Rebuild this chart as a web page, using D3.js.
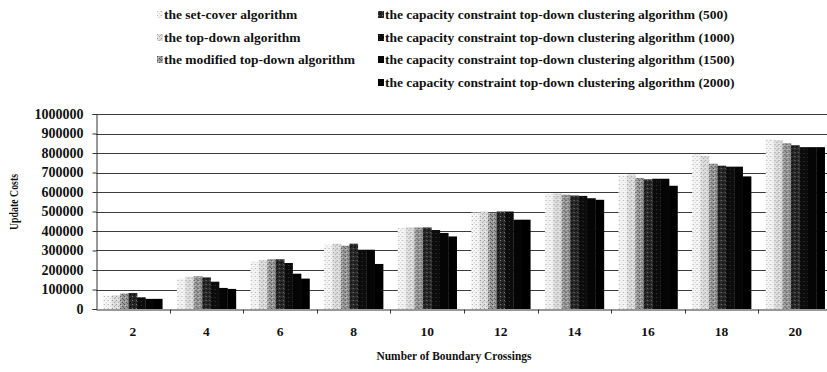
<!DOCTYPE html>
<html>
<head>
<meta charset="utf-8">
<script src="https://cdn.jsdelivr.net/npm/d3@7"></script>
<style>
  html, body { margin: 0; padding: 0; background: #fff; }
  svg { display: block; font-family: "Liberation Serif", "Times New Roman", serif; }
</style>
</head>
<body>
<svg id="chart" width="827" height="372"></svg>
<script>
// Number of boundary crossings (x categories)
const categories = ["2", "4", "6", "8", "10", "12", "14", "16", "18", "20"];

// Update costs per algorithm
const setCover        = [68000, 155000, 245000, 330000, 415000, 495000, 590000, 685000, 795000, 870000];
const topDown         = [72000, 165000, 250000, 335000, 420000, 500000, 592000, 690000, 785000, 865000];
const modifiedTopDown = [80000, 168000, 255000, 325000, 418000, 493000, 586000, 672000, 745000, 850000];
const cc500           = [82000, 162000, 255000, 335000, 418000, 500000, 582000, 665000, 735000, 840000];
const cc1000          = [60000, 140000, 236000, 304000, 405000, 500000, 580000, 668000, 730000, 830000];
const cc1500          = [52000, 108000, 181000, 304000, 390000, 458000, 568000, 668000, 730000, 830000];
const cc2000          = [52000, 103000, 156000, 231000, 372000, 458000, 560000, 632000, 680000, 830000];

const seriesNames = [
  "the set-cover algorithm",
  "the top-down algorithm",
  "the modified top-down algorithm",
  "the capacity constraint top-down clustering algorithm (500)",
  "the capacity constraint top-down clustering algorithm (1000)",
  "the capacity constraint top-down clustering algorithm (1500)",
  "the capacity constraint top-down clustering algorithm (2000)"
];
const seriesValues = [setCover, topDown, modifiedTopDown, cc500, cc1000, cc1500, cc2000];

const yTicks = [0, 100000, 200000, 300000, 400000, 500000, 600000, 700000, 800000, 900000, 1000000];

const xTitle = "Number of Boundary Crossings";
const yTitle = "Update Costs";

const svg = d3.select("#chart");
const W = 827;

// Halftone-like fills for the grayscale bars
const defs = svg.append("defs");
const fills = [
  { id: "p0", base: "#f4f4f4", dots: [[0,0,"#b8b8b8"],[2,2,"#cfcfcf"],[3,0,"#dddddd"]] },
  { id: "p1", base: "#dcdcdc", dots: [[0,0,"#9a9a9a"],[2,2,"#a8a8a8"],[1,3,"#eeeeee"],[3,1,"#bbbbbb"]] },
  { id: "p2", base: "#9a9a9a", dots: [[0,0,"#4a4a4a"],[2,2,"#555555"],[1,1,"#cfcfcf"],[3,3,"#6a6a6a"]] },
  { id: "p3", base: "#2a2a2a", dots: [[0,0,"#777777"],[2,2,"#000000"],[1,3,"#111111"]] },
  { id: "p4", base: "#0c0c0c", dots: [[1,1,"#3a3a3a"]] },
  { id: "p5", base: "#050505", dots: [] },
  { id: "p6", base: "#000000", dots: [] }
];
fills.forEach(f => {
  const p = defs.append("pattern")
    .attr("id", f.id)
    .attr("patternUnits", "userSpaceOnUse")
    .attr("width", 4).attr("height", 4);
  p.append("rect").attr("width", 4).attr("height", 4).attr("fill", f.base);
  f.dots.forEach(d => p.append("rect").attr("x", d[0]).attr("y", d[1]).attr("width", 1).attr("height", 1).attr("fill", d[2]));
});

// Scales
const x = d3.scaleBand().domain(categories).range([96, 832]).paddingInner(0).paddingOuter(0);
const xs = d3.scaleBand().domain(d3.range(seriesNames.length)).range([0, x.bandwidth()])
  .paddingInner(0).paddingOuter(0.87);
const y = d3.scaleLinear().domain([0, 1000000]).range([309, 114]);

// Gridlines
svg.append("g").selectAll("line")
  .data(yTicks.filter(t => t > 0))
  .join("line")
  .attr("x1", 96).attr("x2", W)
  .attr("y1", d => Math.round(y(d)) + 0.5).attr("y2", d => Math.round(y(d)) + 0.5)
  .attr("stroke", "#3d3d3d").attr("stroke-width", 1);

// Bars
const groups = svg.append("g").selectAll("g")
  .data(categories)
  .join("g")
  .attr("transform", c => `translate(${x(c)},0)`);

groups.selectAll("rect")
  .data((c, i) => seriesValues.map((vals, s) => ({ s, v: vals[i] })))
  .join("rect")
  .attr("x", d => xs(d.s))
  .attr("width", xs.bandwidth() + 0.3)
  .attr("y", d => y(d.v))
  .attr("height", d => y(0) - y(d.v))
  .attr("fill", d => `url(#${fills[d.s].id})`);

// Y axis
const yAxis = d3.axisLeft(y).tickValues(yTicks).tickFormat(d3.format("d")).tickSize(4).tickPadding(9);
const gy = svg.append("g").attr("transform", "translate(96.5,0)").call(yAxis);
gy.select(".domain").attr("stroke", "#333");
gy.selectAll(".tick line").attr("stroke", "#333");
gy.selectAll("text")
  .attr("font-family", "Liberation Serif")
  .attr("font-weight", "bold")
  .attr("font-size", 14)
  .attr("fill", "#111");

// X axis
const xAxis = d3.axisBottom(x).tickSize(0).tickPadding(17);
const gx = svg.append("g").attr("transform", "translate(0,309.5)").call(xAxis);
gx.select(".domain").attr("stroke", "#333");
gx.selectAll("text")
  .attr("font-family", "Liberation Serif")
  .attr("font-weight", "bold")
  .attr("font-size", 13.5)
  .attr("fill", "#111");
// category separators below the axis
svg.append("g").selectAll("line")
  .data(categories.slice(1))
  .join("line")
  .attr("x1", c => Math.round(x(c)) + 0.5).attr("x2", c => Math.round(x(c)) + 0.5)
  .attr("y1", 309.5).attr("y2", 313.5)
  .attr("stroke", "#333");

// Axis titles
svg.append("text")
  .attr("x", 454).attr("y", 360)
  .attr("text-anchor", "middle")
  .attr("font-weight", "bold").attr("font-size", 12.5)
  .attr("textLength", 155).attr("lengthAdjust", "spacingAndGlyphs")
  .attr("fill", "#111")
  .text(xTitle);

svg.append("text")
  .attr("transform", "translate(18,202) rotate(-90)")
  .attr("text-anchor", "middle")
  .attr("font-weight", "bold").attr("font-size", 13)
  .attr("textLength", 56).attr("lengthAdjust", "spacingAndGlyphs")
  .attr("fill", "#111")
  .text(yTitle);

// Legend: first three series on the left, remaining four on the right
const legendPos = [
  [157, 15], [157, 38], [157, 60],
  [378, 15], [378, 38], [378, 60], [378, 83]
];
const legend = svg.append("g").selectAll("g")
  .data(seriesNames)
  .join("g")
  .attr("transform", (d, i) => `translate(${legendPos[i][0]},${legendPos[i][1]})`);
legend.append("rect")
  .attr("x", 0).attr("y", -4).attr("width", 6).attr("height", 7)
  .attr("fill", (d, i) => `url(#${fills[i].id})`);
legend.append("text")
  .attr("x", 7).attr("y", 4)
  .attr("font-weight", "bold").attr("font-size", 13.5)
  .attr("fill", "#111")
  .text(d => d);
</script>
</body>
</html>
